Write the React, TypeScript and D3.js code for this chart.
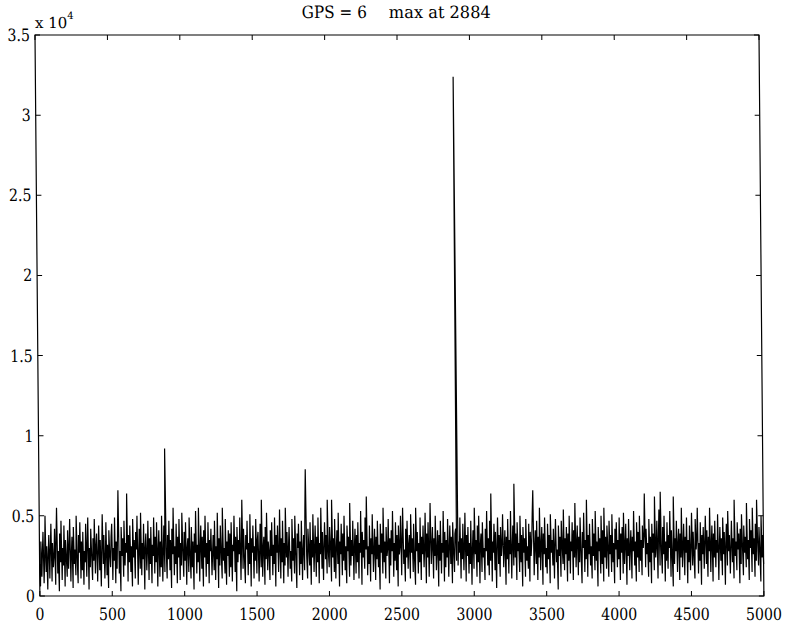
import React from "react";
import * as d3 from "d3";

const STEP = 5;
const values: number[] = [
  20, 6, 34, 12, 27, 40, 8, 22, 50, 15, 31, 4, 26, 38, 11, 29, 45, 9, 33, 18,
  25, 42, 7, 36, 55, 14, 28, 3, 39, 21, 47, 10, 30, 19, 44, 6, 35, 24, 12, 41,
  17, 32, 48, 9, 26, 37, 5, 43, 20, 29, 13, 50, 23, 8, 38, 27, 46, 11, 34, 16,
  40, 7, 28, 21, 45, 12, 33, 49, 4, 30, 18, 42, 25, 10, 36, 22, 48, 14, 31, 39,
  9, 27, 44, 16, 35, 6, 29, 51, 20, 38, 11, 24, 46, 13, 32, 5, 41, 26, 18, 37,
  45, 10, 30, 22, 49, 8, 34, 17, 40, 66, 14, 28, 3, 43, 25, 36, 12, 47, 19, 33,
  27, 64, 9, 38, 21, 44, 15, 31, 6, 48, 24, 35, 11, 40, 29, 50, 7, 26, 42, 17,
  52, 13, 33, 23, 45, 4, 30, 39, 16, 28, 47, 10, 36, 20, 43, 8, 32, 25, 49, 14,
  37, 21, 46, 6, 29, 41, 12, 34, 18, 50, 9, 27, 44, 15, 92, 30, 11, 38, 23, 47,
  16, 35, 5, 42, 26, 55, 13, 31, 20, 45, 8, 37, 24, 48, 10, 33, 19, 52, 28, 12,
  40, 22, 46, 7, 30, 36, 15, 49, 25, 11, 43, 18, 34, 4, 39, 27, 53, 14, 32, 21,
  55, 9, 29, 44, 17, 37, 6, 41, 24, 50, 12, 33, 20, 46, 8, 35, 28, 42, 13, 26,
  38, 16, 47, 10, 31, 23, 52, 5, 36, 19, 44, 27, 11, 55, 22, 30, 14, 48, 7, 34,
  25, 41, 12, 39, 18, 46, 9, 32, 28, 50, 15, 37, 3, 43, 21, 35, 26, 49, 10, 30,
  60, 17, 42, 24, 8, 38, 29, 47, 13, 33, 20, 51, 6, 36, 27, 44, 11, 31, 22, 48,
  14, 35, 40, 9, 26, 45, 18, 60, 12, 30, 37, 7, 43, 23, 52, 16, 34, 28, 10, 41,
  25, 46, 13, 32, 20, 49, 6, 38, 27, 44, 15, 29, 54, 11, 36, 21, 47, 8, 33, 19,
  55, 24, 40, 12, 31, 43, 17, 28, 9, 48, 22, 36, 14, 50, 26, 5, 39, 30, 45, 13,
  34, 20, 47, 10, 28, 38, 16, 53, 79, 25, 11, 42, 30, 19, 46, 7, 35, 24, 51, 15,
  29, 44, 12, 37, 21, 49, 8, 33, 26, 55, 17, 40, 10, 31, 46, 23, 38, 14, 60, 27,
  18, 43, 32, 9, 60, 24, 36, 15, 48, 11, 29, 41, 20, 52, 6, 34, 26, 45, 13, 39,
  22, 50, 16, 31, 8, 44, 28, 37, 12, 58, 19, 35, 25, 47, 10, 30, 42, 14, 38, 21,
  46, 11, 33, 27, 53, 7, 40, 24, 35, 17, 49, 29, 62, 13, 31, 20, 44, 9, 36, 26,
  51, 15, 28, 42, 10, 37, 23, 47, 18, 32, 4, 45, 27, 39, 14, 55, 21, 34, 11, 43,
  25, 30, 48, 8, 36, 19, 41, 28, 53, 12, 33, 22, 46, 16, 38, 6, 44, 26, 31, 50,
  13, 35, 55, 20, 29, 9, 42, 24, 47, 17, 32, 38, 11, 51, 27, 36, 15, 45, 22, 7,
  55, 28, 40, 14, 33, 21, 49, 10, 37, 26, 44, 18, 30, 52, 8, 39, 24, 46, 12, 34,
  58, 20, 31, 43, 11, 36, 25, 50, 16, 29, 41, 6, 38, 22, 47, 14, 33, 27, 53, 9,
  40, 18, 35, 24, 48, 12, 30, 44, 20, 37, 8, 46, 28, 15, 39, 42, 22, 324, 19, 34,
  27, 49, 11, 36, 23, 45, 16, 31, 52, 9, 38, 25, 43, 14, 33, 20, 47, 7, 29, 41,
  17, 55, 26, 35, 12, 44, 21, 50, 8, 32, 39, 15, 46, 24, 30, 10, 42, 28, 53, 19,
  36, 13, 47, 22, 64, 9, 34, 27, 45, 16, 40, 5, 31, 49, 20, 38, 12, 43, 25, 33,
  51, 18, 29, 41, 7, 37, 23, 48, 14, 35, 26, 53, 11, 30, 44, 19, 70, 24, 39, 10,
  46, 28, 33, 15, 50, 21, 38, 6, 43, 27, 36, 12, 48, 22, 31, 17, 45, 9, 40, 25,
  34, 52, 66, 13, 29, 41, 20, 47, 10, 37, 24, 55, 16, 32, 43, 7, 39, 26, 49, 18,
  30, 14, 45, 23, 38, 8, 51, 27, 35, 19, 42, 11, 33, 48, 21, 29, 4, 44, 25, 37,
  12, 47, 31, 20, 54, 16, 36, 26, 43, 9, 39, 22, 50, 14, 34, 28, 46, 10, 41, 24,
  58, 18, 33, 44, 13, 37, 21, 49, 27, 8, 40, 30, 52, 15, 35, 23, 60, 12, 38, 26,
  45, 19, 31, 11, 48, 25, 39, 16, 53, 22, 34, 6, 43, 28, 36, 14, 50, 20, 41, 9,
  55, 24, 37, 17, 44, 30, 12, 47, 26, 38, 15, 51, 21, 33, 8, 42, 29, 46, 18, 35,
  23, 49, 10, 39, 27, 43, 14, 52, 20, 32, 45, 7, 36, 25, 48, 16, 31, 41, 11, 37,
  28, 53, 19, 34, 9, 46, 24, 40, 15, 50, 22, 35, 13, 44, 30, 38, 64, 18, 42, 26,
  33, 12, 48, 21, 37, 8, 45, 27, 39, 16, 62, 24, 31, 47, 11, 36, 54, 19, 65, 29,
  14, 43, 26, 50, 9, 34, 22, 46, 17, 38, 30, 53, 12, 41, 25, 6, 62, 20, 36, 28,
  47, 15, 33, 42, 10, 39, 24, 55, 18, 31, 45, 13, 37, 27, 49, 8, 35, 21, 44, 16,
  30, 52, 19, 40, 25, 11, 48, 29, 36, 55, 14, 33, 22, 46, 7, 38, 26, 43, 17, 34,
  50, 20, 41, 12, 37, 28, 55, 15, 32, 44, 9, 39, 24, 47, 18, 35, 27, 51, 10, 30,
  43, 22, 36, 13, 49, 26, 40, 7, 33, 45, 19, 53, 28, 38, 14, 31, 47, 21, 36, 11,
  60, 25, 34, 16, 46, 29, 39, 8, 42, 20, 51, 31, 13, 44, 27, 37, 18, 58, 23, 35,
  10, 48, 30, 41, 15, 55, 26, 36, 12, 45, 22, 60, 33, 19, 43, 28, 9, 50, 24, 38,
  20,
];

const xTicks: number[] = [0, 500, 1000, 1500, 2000, 2500, 3000, 3500, 4000, 4500, 5000];
const yTicks: number[] = [0, 0.5, 1, 1.5, 2, 2.5, 3, 3.5];
const titleLeft = "GPS = 6";
const titleRight = "max at 2884";

const W = 788;
const H = 627;
const L = 35;
const R = 759;
const T = 35;
const B = 596;
const FONT = "'DejaVu Serif', serif";
const SKEW_DEG = 0.5;

// Times-like advance width at 18px
const tw = (s: string) => {
  let w = 0;
  for (const c of s) w += c === "." ? 4.5 : 9;
  return w;
};

export default function App() {
  const x = d3.scaleLinear().domain([0, 5000]).range([L, R]);
  const y = d3.scaleLinear().domain([0, 3.5]).range([B, T]);
  const line = d3
    .line<number>()
    .x((_, i) => x(i * STEP))
    .y((d) => y((d * 100) / 1e4));
  const tl = 5;
  const k = Math.tan((SKEW_DEG * Math.PI) / 180);
  const txt = { fontFamily: FONT, fontSize: 17, fill: "#000" } as React.CSSProperties;
  return (
    <svg
      width={W}
      height={H}
      style={{ position: "absolute", left: 0, top: 0, background: "#fff" }}
    >
      <rect x={0} y={0} width={W} height={H} fill="#fff" />
      <g transform={`translate(${-k * T},0) skewX(${SKEW_DEG})`}>
        <path d={line(values) || ""} fill="none" stroke="#000" strokeWidth={1.2} />
        <rect x={L} y={T} width={R - L} height={B - T} fill="none" stroke="#000" strokeWidth={1.2} />
        {xTicks.map((t) => {
          const s = String(t);
          return (
            <g key={"x" + t}>
              <line x1={x(t)} x2={x(t)} y1={B} y2={B - tl} stroke="#000" />
              <line x1={x(t)} x2={x(t)} y1={T} y2={T + tl} stroke="#000" />
              <text
                x={x(t) - tw(s) / 2}
                y={620}
                textLength={tw(s)}
                lengthAdjust="spacingAndGlyphs"
                style={txt}
              >
                {s}
              </text>
            </g>
          );
        })}
        {yTicks.map((t) => {
          const s = String(t);
          return (
            <g key={"y" + t}>
              <line x1={L} x2={L + tl} y1={y(t)} y2={y(t)} stroke="#000" />
              <line x1={R} x2={R - tl} y1={y(t)} y2={y(t)} stroke="#000" />
              <text
                x={30 - tw(s)}
                y={y(t) + 6}
                textLength={tw(s)}
                lengthAdjust="spacingAndGlyphs"
                style={txt}
              >
                {s}
              </text>
            </g>
          );
        })}
        <text x={35} y={28} style={{ ...txt, fontSize: 15 }}>
          x 10
          <tspan style={{ fontSize: 10 }} dy={-9}>4</tspan>
        </text>
        <text x={302} y={18} textLength={65} lengthAdjust="spacingAndGlyphs" style={txt}>
          {titleLeft}
        </text>
        <text x={389} y={18} textLength={102} lengthAdjust="spacingAndGlyphs" style={txt}>
          {titleRight}
        </text>
      </g>
    </svg>
  );
}
